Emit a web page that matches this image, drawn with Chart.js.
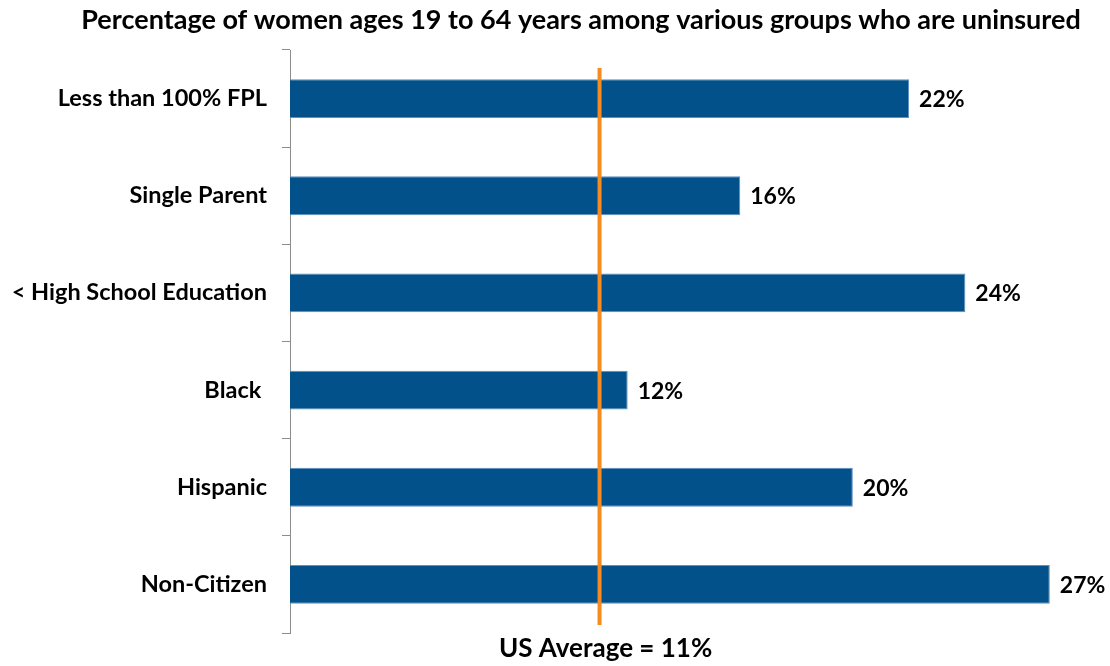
<!DOCTYPE html>
<html>
<head>
<meta charset="utf-8">
<script src="https://cdn.jsdelivr.net/npm/chart.js@4"></script>
<style>
  html, body { margin: 0; padding: 0; background: #fff; }
  #wrap { width: 1110px; height: 666px; }
</style>
</head>
<body>
<div id="wrap"><canvas id="chart" width="1110" height="666"></canvas></div>
<script>
// Chart data
var categories = ["Less than 100% FPL", "Single Parent", "< High School Education", "Black ", "Hispanic", "Non-Citizen"];
var uninsured = [22, 16, 24, 12, 20, 27];
var usAverage = 11;
var titleText = "Percentage of women ages 19 to 64 years among various groups who are uninsured";
var averageLabel = "US Average = 11%";

var fontFamily = "Lato, 'Open Sans', sans-serif";

// Draws the title, value labels, average line and its label
var extrasPlugin = {
  id: "extras",
  afterDatasetsDraw: function (chart) {
    var ctx = chart.ctx;
    var xScale = chart.scales.x;
    var meta = chart.getDatasetMeta(0);

    ctx.save();
    ctx.fillStyle = "#000";
    ctx.font = "bold 23px " + fontFamily;
    ctx.textAlign = "left";
    ctx.textBaseline = "middle";
    meta.data.forEach(function (bar, i) {
      ctx.fillText(uninsured[i] + "%", bar.x + 10, bar.y + 1);
    });

    // average line
    var ax = xScale.getPixelForValue(usAverage);
    ctx.strokeStyle = "#F68B1F";
    ctx.lineWidth = 4;
    ctx.beginPath();
    ctx.moveTo(ax, chart.chartArea.top + 18);
    ctx.lineTo(ax, chart.chartArea.bottom - 8);
    ctx.stroke();

    ctx.fillStyle = "#000";
    ctx.font = "bold 26px " + fontFamily;
    ctx.textAlign = "center";
    ctx.fillText(averageLabel, ax + 6, chart.chartArea.bottom + 16);

    ctx.font = "bold 27px " + fontFamily;
    ctx.fillText(titleText, 581, 20);
    ctx.restore();
  }
};

var ctx = document.getElementById("chart").getContext("2d");
new Chart(ctx, {
  type: "bar",
  data: {
    labels: categories,
    datasets: [
      {
        data: uninsured,
        backgroundColor: "#03518A",
        borderColor: "#5C8FC2",
        borderWidth: 1,
        barPercentage: 0.4,
        categoryPercentage: 1.0
      }
    ]
  },
  options: {
    indexAxis: "y",
    responsive: false,
    animation: false,
    layout: {
      padding: { top: 50, bottom: 33, left: 0, right: 18 }
    },
    plugins: {
      legend: { display: false },
      tooltip: { enabled: false }
    },
    scales: {
      x: {
        display: false,
        min: 0,
        max: 28.5
      },
      y: {
        afterFit: function (scale) {
          scale.width = 290;
        },
        grid: {
          offset: true,
          drawOnChartArea: false,
          tickLength: 8,
          color: "#8c8c8c"
        },
        border: { display: true, color: "#8c8c8c", width: 1 },
        ticks: {
          color: "#000",
          padding: 15,
          font: { family: fontFamily, size: 23.5, weight: "bold" }
        }
      }
    }
  },
  plugins: [extrasPlugin]
});
</script>
</body>
</html>
